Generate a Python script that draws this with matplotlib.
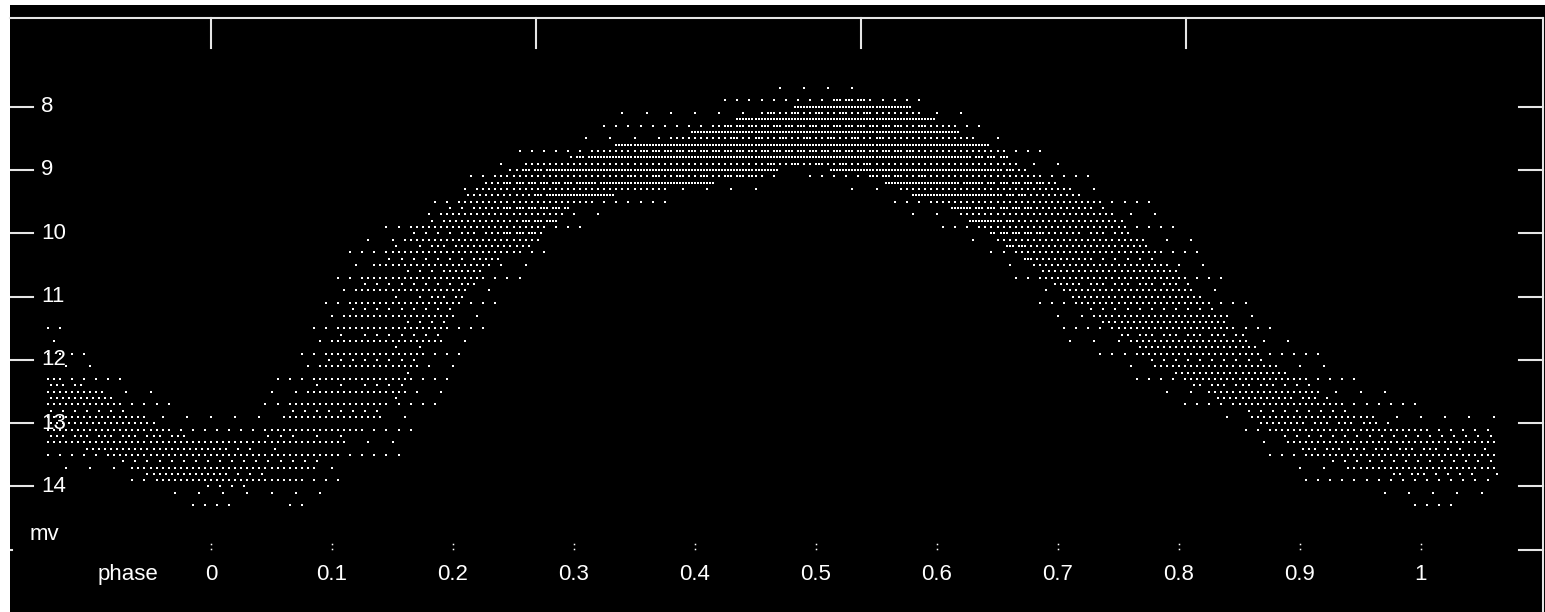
import numpy as np
import matplotlib
matplotlib.use("Agg")
from matplotlib import pyplot as plt

plt.rcParams["font.family"] = ["Liberation Sans", "DejaVu Sans"]

# light curve: per phase bin, outer and dense magnitude range
bin_start = [-0.135, -0.108, -0.067, -0.026, 0.016, 0.057, 0.098, 0.14, 0.181, 0.214,
             0.247, 0.28, 0.313, 0.355, 0.396, 0.437, 0.47, 0.495, 0.528, 0.561,
             0.595, 0.627, 0.66, 0.693, 0.726, 0.76, 0.793, 0.826, 0.859, 0.892,
             0.925, 0.958, 0.991, 1.024]
bin_end = bin_start[1:] + [1.065]
outer_top = [11.5, 12.2, 12.5, 12.9, 12.7, 11.8, 10.1, 9.7, 9.3, 8.8,
             8.6, 8.5, 8.1, 8.0, 7.95, 7.7, 7.5, 7.7, 7.7, 7.8,
             8.0, 8.3, 8.6, 8.8, 9.3, 9.5, 10.0, 10.8, 11.4, 11.8,
             12.2, 12.5, 12.8, 12.9]
outer_bot = [13.7, 13.7, 14.1, 14.4, 14.2, 14.4, 13.7, 13.5, 12.3, 11.4,
             10.5, 10.0, 9.7, 9.5, 9.4, 9.3, 9.0, 9.3, 9.3, 9.7,
             10.0, 10.3, 11.0, 11.7, 12.1, 12.5, 12.8, 13.0, 13.6, 14.0,
             14.0, 14.2, 14.4, 14.2]
core_top = [12.3, 12.5, 13.0, 13.3, 13.3, 12.5, 10.8, 10.0, 9.6, 9.1,
            8.9, 8.8, 8.6, 8.5, 8.3, 8.1, 8.0, 7.9, 7.9, 8.0,
            8.3, 8.6, 9.0, 9.3, 9.6, 10.2, 10.8, 11.4, 12.0, 12.4,
            12.8, 13.0, 13.1, 13.2]
core_bot = [13.3, 13.5, 13.9, 14.0, 14.0, 13.9, 13.2, 12.5, 11.3, 10.5,
            10.2, 9.6, 9.4, 9.3, 9.2, 9.1, 8.9, 9.0, 9.1, 9.4,
            9.6, 10.0, 10.5, 11.0, 11.5, 12.0, 12.4, 12.7, 13.1, 13.5,
            13.7, 13.8, 13.9, 13.8]
core_fill = [0.45, 0.45, 0.45, 0.45, 0.35, 0.3, 0.3, 0.35, 0.4, 0.5,
             0.6, 0.7, 0.75, 0.8, 0.8, 0.85, 0.85, 0.85, 0.85, 0.8,
             0.75, 0.7, 0.55, 0.5, 0.45, 0.45, 0.45, 0.45, 0.45, 0.4,
             0.4, 0.4, 0.4, 0.35]
outer_fill = 0.1

mag_ticks = [8, 9, 10, 11, 12, 13, 14]
right_ticks = [8, 9, 10, 11, 12, 13, 14, 15]
phase_ticks = [0, 0.1, 0.2, 0.3, 0.4, 0.5, 0.6, 0.7, 0.8, 0.9, 1]
phase_labels = ["0", "0.1", "0.2", "0.3", "0.4", "0.5", "0.6", "0.7", "0.8", "0.9", "1"]
top_ticks = [0.0, 0.2686, 0.5372, 0.8058]

# pixel layout of the original screen
W, H = 1545, 612
def px_phase(x):
    return (x - 211) / 1210.0
def px_mag(y):
    return 8 + (y - 106.7) / 63.3

# observations as quantised points (0.0025 phase, 0.1 mag), ordered dither by density
b = np.array([[0, 2], [3, 1]])
for _ in range(2):
    b = np.block([[4 * b, 4 * b + 2], [4 * b + 3, 4 * b + 1]])
thr = (b + 0.5) / 64.0

centers = [(s + e) / 2 for s, e in zip(bin_start, bin_end)]
cols = np.arange(bin_start[0], bin_end[-1], 0.0025)
rows = np.arange(75, 146) / 10.0
px, py = [], []
for i, p in enumerate(cols):
    ot = np.interp(p, centers, outer_top)
    ob = np.interp(p, centers, outer_bot)
    ct = np.interp(p, centers, core_top)
    cb = np.interp(p, centers, core_bot)
    cf = np.interp(p, centers, core_fill)
    for j, m in enumerate(rows):
        t = thr[i % 8, j % 8]
        if ct <= m <= cb:
            ok = t < cf
        elif ot <= m <= ob:
            ok = t < outer_fill
        else:
            ok = False
        if ok:
            px.append(p)
            py.append(m)

fig = plt.figure(figsize=(W / 100, H / 100), dpi=100, facecolor="white")
ax = fig.add_axes([10 / W, 0, (W - 10) / W, (H - 5) / H])
ax.set_facecolor("black")
ax.set_xlim(px_phase(10), px_phase(W))
ax.set_ylim(px_mag(H), px_mag(5))
ax.set_xticks([])
ax.set_yticks([])
for s in ax.spines.values():
    s.set_visible(False)

# small flat dot, a bit wider than tall like the screen pixels
dot = [(-1, -0.6), (1, -0.6), (1, 0.6), (-1, 0.6), (-1, -0.6)]
ax.plot(px, py, ls="none", marker=dot, ms=1.9, mew=0, color="white")

lc = "#e6e6e6"
fs = 16
ax.plot([px_phase(10), px_phase(1543)], [px_mag(18), px_mag(18)], color=lc, lw=1.5, clip_on=False)
ax.plot([px_phase(1543), px_phase(1543)], [px_mag(18), px_mag(H)], color=lc, lw=1.5, clip_on=False)
for t in top_ticks:
    ax.plot([t, t], [px_mag(18), px_mag(48)], color=lc, lw=1.5)
for m in mag_ticks:
    ax.plot([px_phase(10), px_phase(33)], [m, m], color=lc, lw=1.5)
    ax.text(px_phase(41), m, str(m), color="white", fontsize=fs, ha="left", va="center")
ax.plot([px_phase(10), px_phase(12)], [15, 15], color=lc, lw=1.5)
for m in right_ticks:
    ax.plot([px_phase(1519), px_phase(1543)], [m, m], color=lc, lw=1.5)
for p, lab in zip(phase_ticks, phase_labels):
    ax.plot([p, p], [px_mag(544.5), px_mag(549.5)], "s", ms=1.1, mew=0, color="white")
    ax.text(p, px_mag(575), lab, color="white", fontsize=fs, ha="center", va="center")
ax.text(px_phase(128), px_mag(575), "phase", color="white", fontsize=fs, ha="center", va="center")
ax.text(px_phase(44), px_mag(535), "mv", color="white", fontsize=fs, ha="center", va="center")

fig.savefig("out.png", dpi=100, facecolor="white")
